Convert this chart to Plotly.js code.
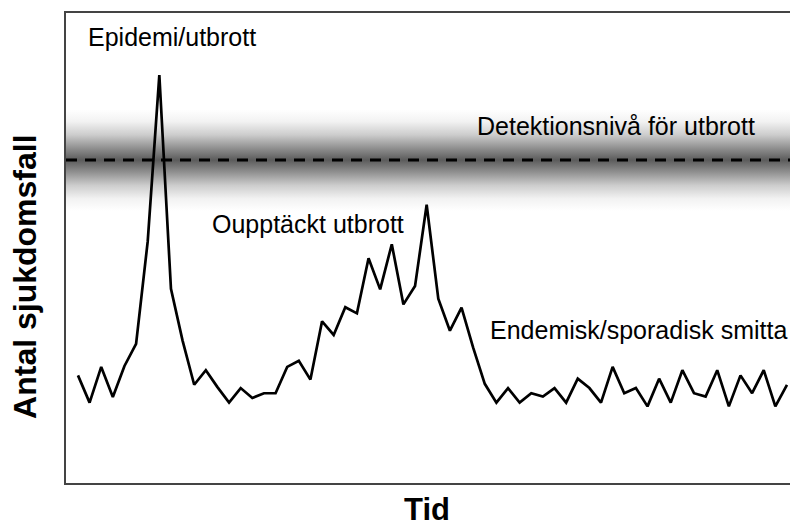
<!DOCTYPE html>
<html>
<head>
<meta charset="utf-8">
<script src="https://cdn.plot.ly/plotly-3.0.1.min.js"></script>
<style>html,body{margin:0;padding:0;background:#fff;}#chart{width:790px;height:529px;}</style>
</head>
<body>
<div id="chart"></div>
<script>
// Time index (arbitrary units) and number of cases (arbitrary units)
const tid = Array.from({length: 62}, (_, i) => i);
const sjukdomsfall = [
  22.9, 17.1, 24.7, 18.3, 24.9, 29.6, 51.4, 86.8, 41.3, 30.3,
  20.9, 24.0, 20.4, 17.1, 20.2, 18.1, 19.1, 19.1, 24.7, 26.0,
  22.0, 34.4, 31.5, 37.4, 36.1, 47.8, 41.2, 50.8, 38.0, 41.9,
  59.2, 39.2, 32.4, 37.3, 28.8, 21.1, 17.1, 20.2, 17.1, 19.1,
  18.4, 20.2, 17.1, 22.2, 20.2, 17.1, 24.7, 19.1, 20.2, 16.3,
  22.2, 17.1, 24.0, 19.1, 18.4, 24.0, 16.3, 22.9, 19.1, 24.0,
  16.3, 20.9
];
const detektionsniva = 68.7;
const bandHalf = 10.8;
const labels = ["Epidemi/utbrott", "Detektionsnivå för utbrott", "Oupptäckt utbrott", "Endemisk/sporadisk smitta"];
const xTitle = "Tid";
const yTitle = "Antal sjukdomsfall";
const xRange = [-1.03, 61.26];
const yRange = [0, 100];

const band = {
  x: [xRange[0], xRange[1], xRange[1], xRange[0], xRange[0]],
  y: [detektionsniva - bandHalf, detektionsniva - bandHalf, detektionsniva + bandHalf, detektionsniva + bandHalf, detektionsniva - bandHalf],
  mode: 'none',
  fill: 'toself',
  fillcolor: 'rgba(120,120,120,0.5)',
  fillgradient: {
    type: 'vertical',
    colorscale: [
      [0, 'rgb(255,255,255)'],
      [0.12, 'rgb(242,242,242)'],
      [0.25, 'rgb(205,205,205)'],
      [0.38, 'rgb(145,145,145)'],
      [0.5, 'rgb(92,92,92)'],
      [0.62, 'rgb(145,145,145)'],
      [0.75, 'rgb(205,205,205)'],
      [0.88, 'rgb(242,242,242)'],
      [1, 'rgb(255,255,255)']
    ]
  },
  hoverinfo: 'skip',
  showlegend: false
};

const line = {
  x: tid,
  y: sjukdomsfall,
  mode: 'lines',
  line: {color: '#000', width: 2.7},
  showlegend: false
};

const fam = '"Liberation Sans", Arial, sans-serif';
const font = {family: fam, size: 25, color: '#000'};
const titleFont = {family: fam, size: 32, color: '#000', weight: 'bold'};

const layout = {
  width: 790, height: 529,
  margin: {l: 66, r: 0, t: 13, b: 46},
  paper_bgcolor: '#fff', plot_bgcolor: '#fff',
  showlegend: false,
  xaxis: {
    range: xRange, showgrid: false, zeroline: false, showticklabels: false, ticks: '',
    showline: true, linecolor: '#444', linewidth: 2, mirror: true,
    title: {text: ''}
  },
  yaxis: {
    range: yRange, showgrid: false, zeroline: false, showticklabels: false, ticks: '',
    showline: true, linecolor: '#444', linewidth: 2, mirror: false,
    title: {text: ''}
  },
  shapes: [{
    type: 'line', xref: 'paper', x0: 0, x1: 1, yref: 'y', y0: detektionsniva, y1: detektionsniva,
    line: {color: '#000', width: 3, dash: '11px,8px'}
  }],
  annotations: [
    {text: labels[0], xref: 'paper', yref: 'paper', x: 0.028, y: 0.949, xanchor: 'left', yanchor: 'middle', showarrow: false, font: font},
    {text: labels[1], xref: 'paper', yref: 'paper', x: 0.565, y: 0.7596, xanchor: 'left', yanchor: 'middle', showarrow: false, font: font},
    {text: labels[2], xref: 'paper', yref: 'paper', x: 0.199, y: 0.551, xanchor: 'left', yanchor: 'middle', showarrow: false, font: font},
    {text: labels[3], xref: 'paper', yref: 'paper', x: 0.583, y: 0.3255, xanchor: 'left', yanchor: 'middle', showarrow: false, font: font},
    {text: yTitle, xref: 'paper', yref: 'paper', x: -0.057, y: 0.44, xanchor: 'center', yanchor: 'middle', textangle: -90, showarrow: false, font: titleFont},
    {text: xTitle, xref: 'paper', yref: 'paper', x: 0.4985, y: -0.0574, xanchor: 'center', yanchor: 'middle', showarrow: false,
     font: {family: fam, size: 31, color: '#000', weight: 'bold'}}
  ]
};

Plotly.newPlot('chart', [band, line], layout, {displayModeBar: false, staticPlot: true});
</script>
</body>
</html>
